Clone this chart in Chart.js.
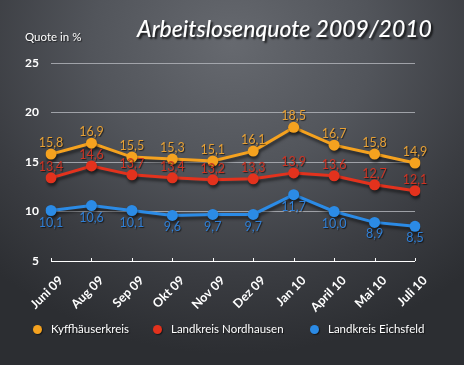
<!DOCTYPE html>
<html>
<head>
<meta charset="utf-8">
<script src="https://cdn.jsdelivr.net/npm/chart.js@4.4.1/dist/chart.umd.min.js"></script>
<style>
  html, body { margin: 0; padding: 0; }
  body {
    width: 464px; height: 365px; overflow: hidden; position: relative;
    background: radial-gradient(ellipse 75% 85% at 50% 12%, #66696f 0%, #52555b 40%, #3a3c41 75%, #2c2e32 100%);
    font-family: "Lato", "DejaVu Sans", sans-serif;
  }
  #wrap { position: absolute; left: 0; top: 0; width: 464px; height: 365px; }
  .title {
    position: absolute; left: 137px; top: 14px; color: #fff;
    font: italic 500 23px "Lato", "DejaVu Sans", sans-serif;
    text-shadow: 2px 2px 2px rgba(0,0,0,0.75); white-space: nowrap;
  }
  .ylab {
    position: absolute; left: 25px; top: 30px; color: #fff;
    font: 11.5px "Lato", "DejaVu Sans", sans-serif;
    text-shadow: 1px 1px 1px rgba(0,0,0,0.6); white-space: nowrap;
  }
  .legend { position: absolute; top: 322px; color: #fff; font: 11.5px "Lato", "DejaVu Sans", sans-serif;
    text-shadow: 1px 1px 1px rgba(0,0,0,0.6); white-space: nowrap; }
  .legend .dot { display: inline-block; width: 9px; height: 9px; border-radius: 50%; margin-right: 9px; vertical-align: -1px;
    box-shadow: 1px 1px 1px rgba(0,0,0,0.5); }
</style>
</head>
<body>
<div id="wrap"><canvas id="c" width="464" height="365"></canvas></div>
<div class="title">Arbeitslosenquote 2009/2010</div>
<div class="ylab">Quote in %</div>
<div id="legend"></div>
<script>
const categories = ["Juni 09", "Aug 09", "Sep 09", "Okt 09", "Nov 09", "Dez 09", "Jan 10", "April 10", "Mai 10", "Juli 10"];
const seriesNames = ["Kyffhäuserkreis", "Landkreis Nordhausen", "Landkreis Eichsfeld"];
const kyffhaeuser = [15.8, 16.9, 15.5, 15.3, 15.1, 16.1, 18.5, 16.7, 15.8, 14.9];
const nordhausen = [13.4, 14.6, 13.7, 13.4, 13.2, 13.3, 13.9, 13.6, 12.7, 12.1];
const eichsfeld = [10.1, 10.6, 10.1, 9.6, 9.7, 9.7, 11.7, 10.0, 8.9, 8.5];
const yTicks = [5, 10, 15, 20, 25];

const lineColors = ["#f5a21f", "#e3321d", "#2b8be6"];
const labelColors = ["#e6a035", "#cf3323", "#2f7fd6"];
const labelBelow = [false, false, true];
const legendX = [33, 153, 310];

const legendEl = document.getElementById('legend');
seriesNames.forEach((n, i) => {
  const d = document.createElement('div');
  d.className = 'legend';
  d.style.left = legendX[i] + 'px';
  d.innerHTML = '<span class="dot" style="background:' + lineColors[i] + '"></span>' + n;
  legendEl.appendChild(d);
});

const seriesData = [kyffhaeuser, nordhausen, eichsfeld];

const shadowPlugin = {
  id: 'shadowPlugin',
  beforeDatasetDraw(chart) {
    const ctx = chart.ctx;
    ctx.save();
    ctx.shadowColor = 'rgba(0,0,0,0.5)';
    ctx.shadowOffsetX = 1;
    ctx.shadowOffsetY = 3;
    ctx.shadowBlur = 3;
  },
  afterDatasetDraw(chart) {
    chart.ctx.restore();
  }
};

const labelPlugin = {
  id: 'labelPlugin',
  afterDatasetsDraw(chart) {
    const ctx = chart.ctx;
    chart.data.datasets.forEach((ds, i) => {
      const meta = chart.getDatasetMeta(i);
      ctx.save();
      ctx.font = '12.5px "Lato", "DejaVu Sans", sans-serif';
      ctx.textAlign = 'center';
      ctx.textBaseline = 'middle';
      ctx.fillStyle = labelColors[i];
      ctx.shadowColor = 'rgba(0,0,0,0.6)';
      ctx.shadowOffsetX = 1;
      ctx.shadowOffsetY = 1;
      ctx.shadowBlur = 1;
      meta.data.forEach((pt, j) => {
        const txt = ds.data[j].toFixed(1).replace('.', ',');
        const y = labelBelow[i] ? pt.y + 12 : pt.y - 11;
        ctx.fillText(txt, pt.x, y);
      });
      ctx.restore();
    });
  }
};

const tickPlugin = {
  id: 'tickPlugin',
  afterDraw(chart) {
    const ctx = chart.ctx;
    const xs = chart.scales.x;
    const ys = chart.scales.y;
    const y0 = ys.getPixelForValue(5);
    ctx.save();
    ctx.strokeStyle = '#ffffff';
    ctx.lineWidth = 1;
    ctx.beginPath();
    ctx.moveTo(xs.left, y0 + 0.5);
    ctx.lineTo(xs.right, y0 + 0.5);
    for (let i = 0; i < categories.length; i++) {
      const x = Math.round(xs.getPixelForTick(i)) + 0.5;
      ctx.moveTo(x, y0);
      ctx.lineTo(x, y0 - 3);
    }
    ctx.stroke();
    ctx.restore();
  }
};

new Chart(document.getElementById('c'), {
  type: 'line',
  data: {
    labels: categories,
    datasets: seriesData.map((d, i) => ({
      label: seriesNames[i],
      data: d,
      borderColor: lineColors[i],
      backgroundColor: lineColors[i],
      pointBackgroundColor: lineColors[i],
      pointBorderColor: lineColors[i],
      pointBorderWidth: 0,
      borderWidth: 3,
      pointRadius: 5.5,
      pointHoverRadius: 5.5,
      tension: 0,
      fill: false
    }))
  },
  options: {
    responsive: false,
    animation: false,
    events: [],
    layout: { padding: { left: 0, right: 49, top: 63, bottom: 0 } },
    plugins: {
      legend: { display: false },
      title: { display: false },
      tooltip: { enabled: false }
    },
    scales: {
      x: {
        offset: false,
        grid: { display: false },
        border: { display: false },
        afterFit(scale) { scale.height = 104; },
        ticks: {
          autoSkip: false,
          maxRotation: 45,
          minRotation: 45,
          padding: 4,
          labelOffset: 10,
          color: '#ffffff',
          font: { family: '"Lato", "DejaVu Sans", sans-serif', size: 12.5, weight: 'bold' }
        }
      },
      y: {
        min: 5,
        max: 25,
        afterFit(scale) { scale.width = 51; },
        afterBuildTicks(scale) { scale.ticks = yTicks.map(v => ({ value: v })); },
        border: { display: false },
        grid: {
          drawTicks: false,
          color: ctx => ctx.tick && ctx.tick.value === 5 ? 'rgba(0,0,0,0)' : 'rgba(175,178,183,0.85)',
          lineWidth: 1
        },
        ticks: {
          padding: 12,
          color: '#ffffff',
          font: { family: '"Lato", "DejaVu Sans", sans-serif', size: 12, weight: 'bold' }
        }
      }
    }
  },
  plugins: [shadowPlugin, labelPlugin, tickPlugin]
});
</script>
</body>
</html>
